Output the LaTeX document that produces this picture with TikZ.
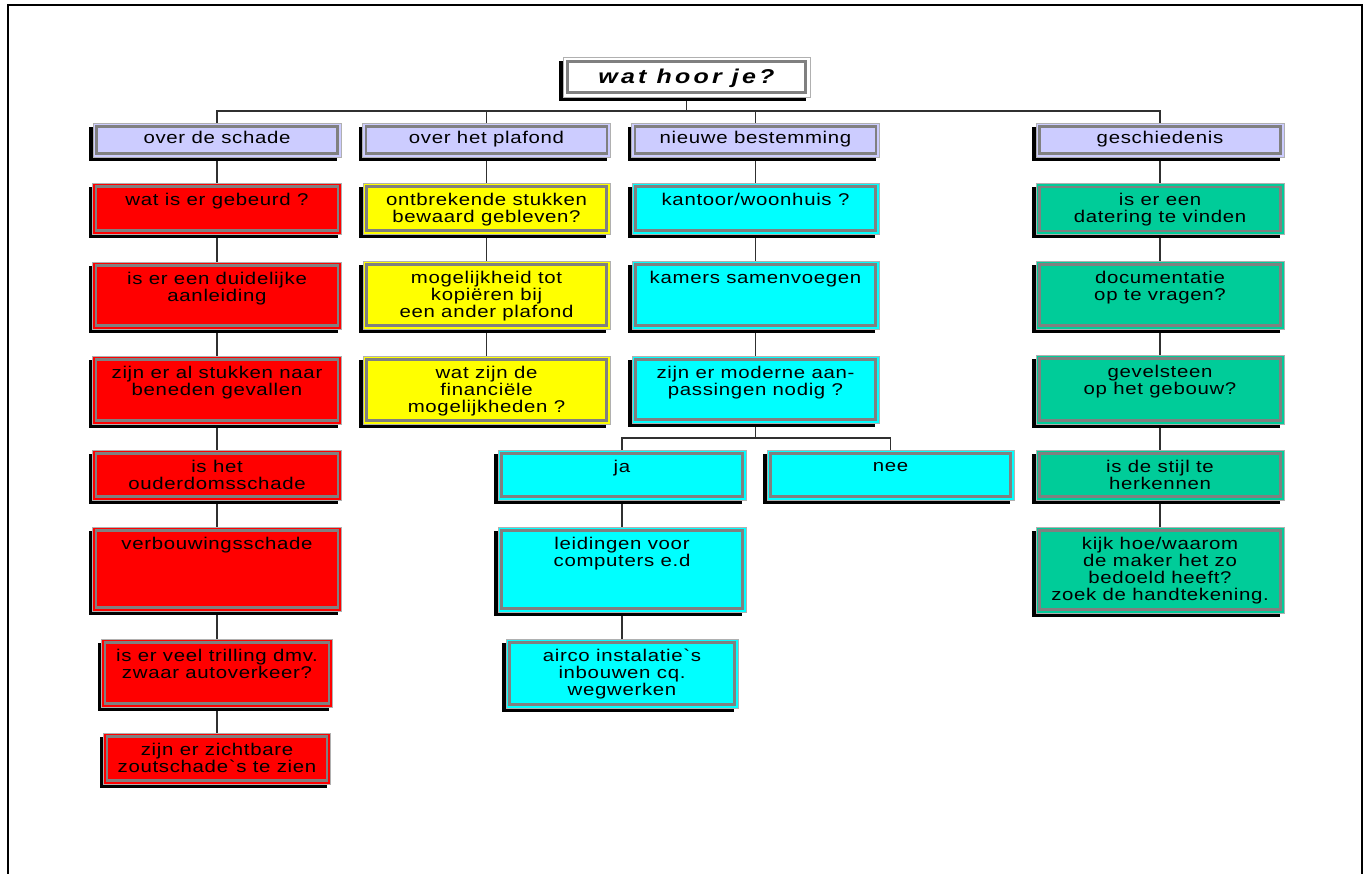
\documentclass[tikz,border=0pt]{standalone}
\usepackage{fontspec}
\setmainfont{Liberation Sans}
\newfontfamily\bxfont{Liberation Sans}[FakeStretch=1.2,LetterSpace=4,Ligatures=TeXOff]
\newfontfamily\ttlfont{Liberation Sans}[FakeStretch=1.25,LetterSpace=16,Ligatures=TeXOff]
\usetikzlibrary{shadows,backgrounds}
\definecolor{lav}{HTML}{CCCCFF}
\definecolor{rd}{HTML}{FF0000}
\definecolor{yl}{HTML}{FFFF00}
\definecolor{cy}{HTML}{00FFFF}
\definecolor{gr}{HTML}{00CC99}
\definecolor{framegray}{HTML}{808080}
\definecolor{edgegray}{HTML}{B0B0B0}
\definecolor{linegray}{HTML}{303030}
\tikzset{
  conn/.style={draw=linegray, line width=1.4pt},
  bx/.style={draw=edgegray, line width=0.8pt, rectangle, inner sep=0pt,
    drop shadow={shadow xshift=-4pt, shadow yshift=-4pt, opacity=1, fill=black},
    path picture={\draw[framegray,line width=2.6pt]
      ([shift={(3.6pt,3.6pt)}]path picture bounding box.south west) rectangle
      ([shift={(-3.6pt,-3.6pt)}]path picture bounding box.north east);}},
  ttlbox/.style={draw=edgegray, line width=0.8pt, rectangle, inner sep=0pt, fill=white,
    drop shadow={shadow xshift=-4pt, shadow yshift=-4pt, opacity=1, fill=black},
    path picture={\draw[framegray,line width=3pt]
      ([shift={(4.5pt,4.5pt)}]path picture bounding box.south west) rectangle
      ([shift={(-4.5pt,-4.5pt)}]path picture bounding box.north east);}},
  lbl/.style={anchor=north, yshift=-10pt, align=center, inner sep=0pt,
    font=\bxfont\fontsize{17}{17}\selectfont, execute at begin node=\strut},
  hdr/.style={bx, fill=lav, minimum width=248pt, minimum height=34pt,
    font=\bxfont\fontsize{17}{17}\selectfont, text height=12pt, text depth=4pt},
}
\newcommand\qbox[6]{%
  \node[bx, fill=#2, minimum width=#5pt, minimum height=#6pt] (#1) at (#4) {};
  \node[lbl] (#1t) at (#1.north) {#3};}
\begin{document}
\begin{tikzpicture}[x=1pt,y=-1pt]
\useasboundingbox (0,0) rectangle (1364,874);
\draw[line width=2pt] (8.3,874) -- (8.3,5.3) -- (1362.2,5.3) -- (1362.2,874);

\node[ttlbox, minimum width=247pt, minimum height=40pt,
  font=\ttlfont\bfseries\itshape\fontsize{20}{22}\selectfont,
  text height=15pt, text depth=1pt] (title) at (686.5,77) {wat hoor je?};

\node[hdr] (h1) at (217,140) {over de schade};
\node[hdr] (h2) at (486.5,140) {over het plafond};
\node[hdr] (h3) at (755.5,140) {nieuwe bestemming};
\node[hdr] (h4) at (1160,140) {geschiedenis};

\qbox{r1}{rd}{wat is er gebeurd ?}{217,208.5}{249}{51}
\qbox{r2}{rd}{is er een duidelijke\\aanleiding}{217,295.5}{249}{67}
\qbox{r3}{rd}{zijn er al stukken naar\\beneden gevallen}{217,390}{249}{68}
\qbox{r4}{rd}{is het\\ouderdomsschade}{217,475}{249}{50}
\qbox{r5}{rd}{verbouwingsschade}{217,569}{249}{84}
\qbox{r6}{rd}{is er veel trilling dmv.\\zwaar autoverkeer?}{217,673}{231}{68}
\qbox{r7}{rd}{zijn er zichtbare\\zoutschade`s te zien}{217,758.5}{227}{51}

\qbox{y1}{yl}{ontbrekende stukken\\bewaard gebleven?}{486.5,208.5}{247}{51}
\qbox{y2}{yl}{mogelijkheid tot\\kopiëren bij\\een ander plafond}{486.5,295}{247}{68}
\qbox{y3}{yl}{wat zijn de\\financiële\\mogelijkheden ?}{486.5,390}{247}{68}

\qbox{c1}{cy}{kantoor/woonhuis ?}{755.5,208.5}{247}{51}
\qbox{c2}{cy}{kamers samenvoegen}{755.5,295}{247}{68}
\qbox{c3}{cy}{zijn er moderne aan-\\passingen nodig ?}{755.5,389.5}{247}{67}
\qbox{ja}{cy}{ja}{622,475}{248}{50}
\qbox{nee}{cy}{nee}{890.5,475}{247}{50}
\qbox{leid}{cy}{leidingen voor\\computers e.d}{622,569.5}{248}{85}
\qbox{airco}{cy}{airco instalatie`s\\inbouwen cq.\\wegwerken}{622,673.5}{232}{69}

\qbox{g1}{gr}{is er een\\datering te vinden}{1160,209}{248}{51}
\qbox{g2}{gr}{documentatie\\op te vragen?}{1160,295}{248}{68}
\qbox{g3}{gr}{gevelsteen\\op het gebouw?}{1160,389.5}{248}{69}
\qbox{g4}{gr}{is de stijl te\\herkennen}{1160,475}{248}{50}
\qbox{g5}{gr}{kijk hoe/waarom\\de maker het zo\\bedoeld heeft?\\zoek de handtekening.}{1160,570}{248}{86}

\coordinate (bus) at (686.5,111);
\coordinate (br) at (755.5,438);
\begin{pgfonlayer}{background}
\draw[conn] (title) -- (bus);
\draw[conn] (h1.north) |- (bus) -| (h4.north);
\draw[conn] (h2) -- (h2 |- bus);
\draw[conn] (h3) -- (h3 |- bus);
\draw[conn] (h1) -- (r1);
\draw[conn] (r1) -- (r2);
\draw[conn] (r2) -- (r3);
\draw[conn] (r3) -- (r4);
\draw[conn] (r4) -- (r5);
\draw[conn] (r5) -- (r6);
\draw[conn] (r6) -- (r7);
\draw[conn] (h2) -- (y1);
\draw[conn] (y1) -- (y2);
\draw[conn] (y2) -- (y3);
\draw[conn] (h3) -- (c1);
\draw[conn] (c1) -- (c2);
\draw[conn] (c2) -- (c3);
\draw[conn] (c3) -- (br);
\draw[conn] (ja.north) |- (br) -| (nee.north);
\draw[conn] (ja) -- (leid);
\draw[conn] (leid) -- (airco);
\draw[conn] (h4) -- (g1);
\draw[conn] (g1) -- (g2);
\draw[conn] (g2) -- (g3);
\draw[conn] (g3) -- (g4);
\draw[conn] (g4) -- (g5);
\end{pgfonlayer}
\end{tikzpicture}
\end{document}
